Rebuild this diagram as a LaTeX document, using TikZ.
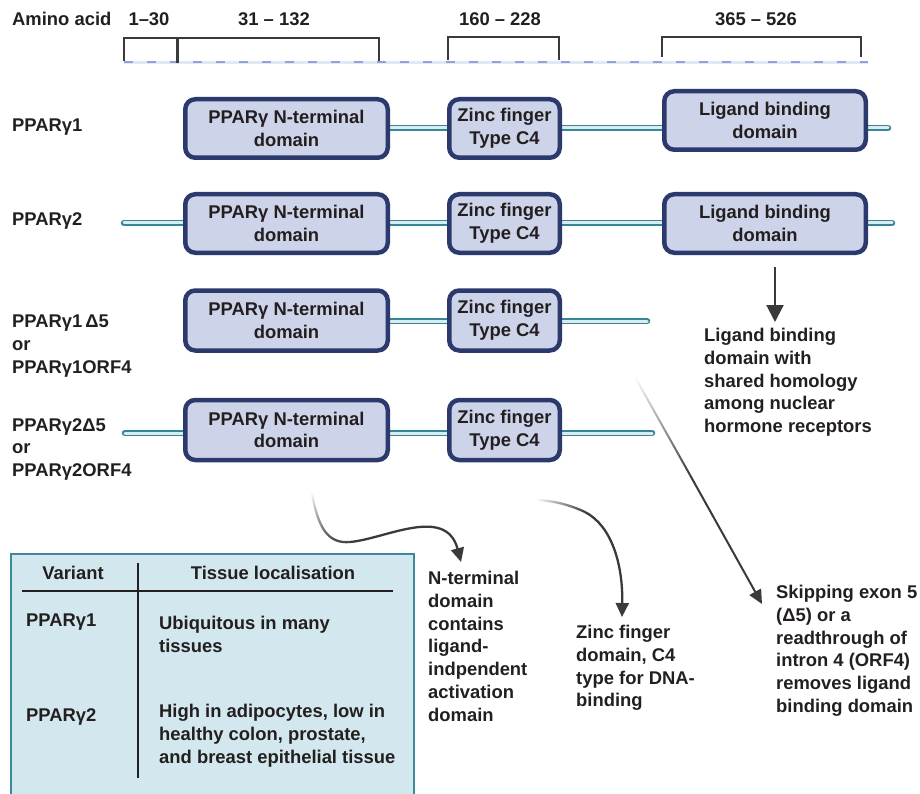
\documentclass[tikz,border=0pt]{standalone}
\usepackage{fontspec}
\setmainfont{Liberation Sans}
\usetikzlibrary{arrows.meta,fadings}
\definecolor{navy}{HTML}{2C396C}
\definecolor{domfill}{HTML}{CDD3E8}
\definecolor{linkout}{HTML}{3A8595}
\definecolor{linkin}{HTML}{D8EDF1}
\definecolor{tabfill}{HTML}{D3E8EE}
\definecolor{tabborder}{HTML}{3D8A9C}
\definecolor{textc}{HTML}{231F20}
\definecolor{arrowc}{HTML}{3A3A3A}
\definecolor{dashc}{HTML}{8CA4D6}
\definecolor{dashbg}{HTML}{E0E8F5}
\pgfdeclarelayer{background}
\pgfsetlayers{background,main}
\tikzset{
  txt/.style={font=\bfseries\fontsize{18.4}{22.8}\selectfont, text=textc, inner sep=0pt},
  dom/.style={txt, draw=navy, line width=4.5pt, fill=domfill, rounded corners=10pt,
              minimum height=58.5pt, align=center},
  linker/.style={draw=linkout, line width=1.8pt, double=linkin, double distance=3pt, line cap=round},
  lab/.style={txt, anchor=west},
  note/.style={txt, anchor=north west, align=left},
  brk/.style={draw=arrowc, line width=1.4pt},
  curvearrow/.style={draw=arrowc, line width=2.3pt, -{Triangle[width=13pt,length=14pt]}},
  plainline/.style={draw=arrowc, line width=2.3pt},
  tline/.style={draw=textc, line width=2pt}
}
\begin{document}
\begin{tikzpicture}[x=1pt,y=-1pt]
\useasboundingbox (0,0) rectangle (920,794);

% ---------- scale bar ----------
\node[lab] (aa) at (12,19) {Amino acid};
\node[txt] (r1) at (149,19) {1–30};
\node[txt] (r2) at (274,19) {31 – 132};
\node[txt] (r3) at (500,19) {160 – 228};
\node[txt] (r4) at (756,19) {365 – 526};

\draw[dashbg, line width=3.5pt] (124,62.5) -- (868,62.5);
\draw[dashc, line width=2.8pt, dash pattern=on 9pt off 14pt] (124,62) -- (868,62);
\draw[brk] (124,61) -- (124,38) -- (379,38) -- (379,61);
\draw[brk, line width=3pt] (177.5,38) -- (177.5,63);
\draw[brk] (448,60) -- (448,37) -- (559,37) -- (559,60);
\draw[brk] (662,57) -- (662,37) -- (861,37) -- (861,57);

% ---------- row labels ----------
\node[lab] (lab1) at (12,127) {PPARγ1};
\node[lab] (lab2) at (12,221) {PPARγ2};
\node[note] (lab3) at (12,315) {PPARγ1\,Δ5\\or\\PPARγ1ORF4};
\node[note] (lab4) at (12,418) {PPARγ2Δ5\\or\\PPARγ2ORF4};

% ---------- domain boxes ----------
\node[dom, minimum width=202.5pt] (n1) at (286.5,128.5) {PPARγ N-terminal\\domain};
\node[dom, minimum width=110.5pt] (z1) at (504.5,128.5) {Zinc finger\\Type C4};
\node[dom, minimum width=201.5pt] (l1) at (765,120.5) {Ligand binding\\domain};

\node[dom, minimum width=202.5pt] (n2) at (286.5,223.5) {PPARγ N-terminal\\domain};
\node[dom, minimum width=110.5pt] (z2) at (504.5,223.5) {Zinc finger\\Type C4};
\node[dom, minimum width=201.5pt] (l2) at (765,223.5) {Ligand binding\\domain};

\node[dom, minimum width=202.5pt, minimum height=60pt] (n3) at (286.5,320.5) {PPARγ N-terminal\\domain};
\node[dom, minimum width=110.5pt, minimum height=60pt] (z3) at (504.5,320.5) {Zinc finger\\Type C4};

\node[dom, minimum width=202.5pt, minimum height=60pt] (n4) at (286.5,430) {PPARγ N-terminal\\domain};
\node[dom, minimum width=110.5pt, minimum height=60pt] (z4) at (504.5,430) {Zinc finger\\Type C4};

% tails
\coordinate (t1R) at (888,128);
\coordinate (t2L) at (124,223);
\coordinate (t2R) at (892,223);
\coordinate (t3R) at (647,321);
\coordinate (t4L) at (125,433);
\coordinate (t4R) at (652,433);

\begin{pgfonlayer}{background}
\draw[linker] (n1.center |- t1R) -- (t1R);
\draw[linker] (t2L) -- (t2R);
\draw[linker] (n3.center |- t3R) -- (t3R);
\draw[linker] (t4L) -- (t4R);
\end{pgfonlayer}

% ---------- ligand annotation ----------
\node[note] (ligtxt) at (704,328) {Ligand binding\\domain with\\shared homology\\among nuclear\\hormone receptors};
\coordinate (ligA) at (775,267);
\coordinate (ligB) at (775,322);
\draw[draw=arrowc, line width=2.2pt, -{Triangle[width=17pt,length=17pt]}] (ligA) -- (ligB);

% ---------- lower annotations ----------
\node[note] (ntxt) at (428,571) {N-terminal\\domain\\contains\\ligand-\\indpendent\\activation\\domain};
\node[note] (ztxt) at (576,625) {Zinc finger\\domain, C4\\type for DNA-\\binding};
\node[note] (stxt) at (776,585) {Skipping exon 5\\(Δ5) or a\\readthrough of\\intron 4 (ORF4)\\removes ligand\\binding domain};

% N-terminal curved arrow
\coordinate (na) at (312,493);
\coordinate (nb) at (350,542);
\coordinate (nc) at (461,562);
\draw[plainline, path fading=north] (na) .. controls (318,528) and (328,544) .. (nb);
\draw[curvearrow] (nb) .. controls (385,539) and (446,505) .. (nc);

% Zinc curved arrow
\coordinate (za) at (537,500);
\coordinate (zb) at (585,512);
\coordinate (zc) at (622,617);
\draw[plainline, path fading=west] (za) .. controls (555,501) and (570,505) .. (zb);
\draw[curvearrow] (zb) .. controls (612,526) and (623,565) .. (zc);

% Skipping arrow
\coordinate (sa) at (635,377);
\coordinate (sb) at (690,475);
\coordinate (sc) at (762,604);
\draw[plainline, line width=2pt, path fading=north] (sa) -- (sb);
\draw[curvearrow, line width=2pt] (sb) -- (sc);

% ---------- table ----------
\node[draw=tabborder, line width=2pt, fill=tabfill, anchor=north west, minimum width=403pt, minimum height=260pt, inner sep=0pt] (tab) at (10,553) {};
\node[txt] (hv) at (73,573) {Variant};
\node[txt] (ht) at (273,573) {Tissue localisation};
\draw[tline] (22,591) -- (393,591);
\draw[tline, line width=2.4pt] (138,563) -- (138,778);
\node[lab] (v1) at (26,622) {PPARγ1};
\node[note] (d1) at (159,616) {Ubiquitous in many\\tissues};
\node[lab] (v2) at (26,717) {PPARγ2};
\node[note] (d2) at (159,704) {High in adipocytes, low in\\healthy colon, prostate,\\and breast epithelial tissue};
\end{tikzpicture}
\end{document}
